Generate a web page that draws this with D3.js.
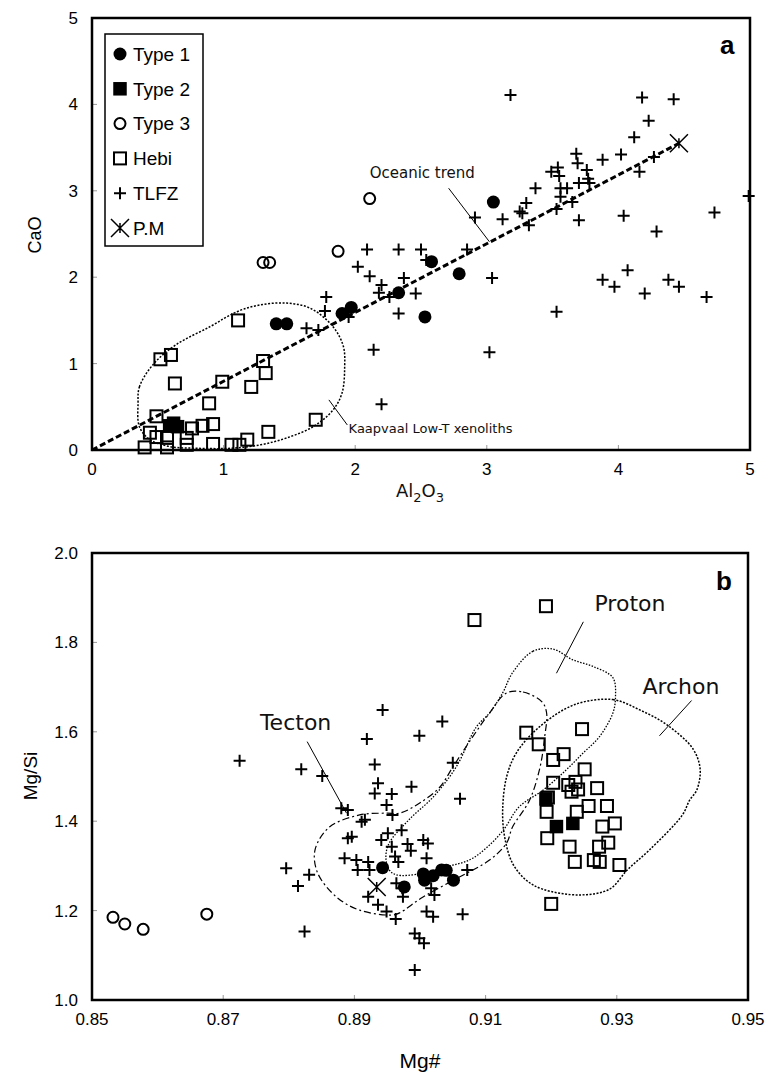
<!DOCTYPE html>
<html lang="en">
<head>
<meta charset="UTF-8">
<title>CaO vs Al2O3 and Mg/Si vs Mg#</title>
<script src="https://d3js.org/d3.v7.min.js"></script>
<style>
  body { margin: 0; background: #fff; }
  text { font-family: "Liberation Sans", Arial, sans-serif; fill: #000; }
  .note { font-family: "DejaVu Sans", sans-serif; font-weight: normal; fill: #111; }
</style>
</head>
<body>
<svg id="main" width="769" height="1072"></svg>
<script>
// ---------- panel a : CaO vs Al2O3 ----------
const aTicks = [0, 1, 2, 3, 4, 5];
const aType1 = [[1.40,1.46],[1.48,1.46],[1.90,1.58],[1.97,1.65],[2.33,1.82],[2.53,1.54],[2.58,2.18],[2.79,2.04],[3.05,2.87]];
const aType2 = [[0.59,0.28],[0.65,0.27],[0.62,0.31]];
const aType3 = [[1.30,2.17],[1.35,2.17],[1.87,2.30],[2.11,2.91]];
const aHebi = [[1.11,1.50],[0.52,1.05],[0.60,1.10],[0.63,0.77],[0.99,0.79],[1.30,1.03],[1.32,0.89],[1.21,0.73],
  [0.89,0.54],[0.49,0.39],[0.44,0.20],[0.40,0.03],[0.49,0.15],[0.57,0.14],[0.57,0.03],[0.72,0.14],[0.72,0.06],
  [0.76,0.25],[0.84,0.28],[0.92,0.30],[0.92,0.07],[1.06,0.06],[1.12,0.06],[1.18,0.12],[1.34,0.21],[1.70,0.35]];
const aTLFZ = [[2.09,2.32],[2.33,2.32],[2.50,2.32],[2.85,2.32],[2.91,2.69],[3.12,2.67],[2.02,2.12],[2.11,2.01],
  [2.37,1.99],[2.20,1.91],[2.18,1.82],[2.26,1.77],[2.46,1.81],[2.33,1.58],[1.78,1.77],[1.77,1.61],[1.95,1.54],
  [3.04,1.99],[2.54,2.20],[1.63,1.41],[1.72,1.39],[2.14,1.16],[3.02,1.13],[2.20,0.53],
  [3.18,4.11],[4.18,4.08],[4.42,4.06],[4.23,3.81],[4.12,3.62],[4.02,3.42],[3.88,3.36],[3.68,3.43],[3.69,3.32],
  [3.49,3.22],[3.54,3.27],[3.55,3.17],[3.76,3.24],[3.77,3.14],[3.78,3.09],[3.70,3.09],[3.61,3.03],[3.56,3.03],
  [3.56,2.93],[3.65,2.87],[3.53,2.79],[3.37,3.03],[3.30,2.86],[3.25,2.76],[3.27,2.74],[3.32,2.60],[3.70,2.66],
  [4.04,2.71],[4.29,2.53],[4.27,3.39],[4.16,3.22],[4.73,2.75],[4.99,2.94],[3.53,1.60],[3.88,1.97],[3.97,1.89],
  [4.07,2.08],[4.20,1.81],[4.38,1.97],[4.46,1.89],[4.67,1.77]];
const aPM = [[4.46,3.55]];
const oceanicTrend = [[0,0],[4.46,3.55]];
const kaapvaal = [[0.35,0.54],[0.36,0.73],[0.47,1.00],[0.64,1.22],[0.90,1.43],[1.10,1.60],[1.28,1.68],[1.48,1.70],
  [1.66,1.64],[1.83,1.43],[1.91,1.20],[1.92,0.96],[1.90,0.66],[1.83,0.46],[1.68,0.27],[1.48,0.14],[1.28,0.06],
  [1.05,0.02],[0.80,0.02],[0.59,0.04],[0.44,0.12],[0.36,0.27]];

// ---------- panel b : Mg/Si vs Mg# ----------
const bXTicks = [0.85, 0.87, 0.89, 0.91, 0.93, 0.95];
const bYTicks = [1.0, 1.2, 1.4, 1.6, 1.8, 2.0];
const bType1 = [[0.8943,1.296],[0.8976,1.253],[0.9005,1.282],[0.9007,1.268],[0.9020,1.278],[0.9033,1.291],[0.9040,1.290],[0.9051,1.268]];
const bType2 = [[0.9192,1.450],[0.9208,1.388],[0.9233,1.395]];
const bType3 = [[0.8532,1.185],[0.8550,1.170],[0.8578,1.158],[0.8675,1.192]];
const bHebi = [[0.9083,1.850],[0.9192,1.881],[0.9162,1.598],[0.9181,1.572],[0.9247,1.606],[0.9203,1.537],[0.9219,1.550],
  [0.9251,1.516],[0.9203,1.486],[0.9226,1.481],[0.9237,1.488],[0.9231,1.466],[0.9241,1.471],[0.9270,1.474],[0.9193,1.421],
  [0.9239,1.421],[0.9257,1.434],[0.9285,1.434],[0.9194,1.362],[0.9278,1.388],[0.9297,1.395],[0.9287,1.352],[0.9273,1.343],
  [0.9228,1.343],[0.9236,1.309],[0.9265,1.313],[0.9274,1.309],[0.9304,1.302],[0.9200,1.215],[0.9195,1.453]];
const bTLFZ = [[0.8943,1.649],[0.9034,1.623],[0.8919,1.584],[0.8999,1.591],[0.8931,1.527],[0.9050,1.531],[0.8819,1.516],
  [0.8851,1.501],[0.8936,1.485],[0.8931,1.462],[0.8957,1.461],[0.8987,1.477],[0.9061,1.450],[0.8949,1.436],[0.8958,1.414],
  [0.8880,1.429],[0.8890,1.425],[0.8911,1.399],[0.8916,1.403],[0.8890,1.362],[0.8896,1.365],[0.8951,1.373],[0.8941,1.358],
  [0.8972,1.380],[0.8957,1.343],[0.8981,1.349],[0.8986,1.334],[0.9005,1.358],[0.9012,1.350],[0.9010,1.317],[0.8962,1.321],
  [0.8967,1.309],[0.8885,1.317],[0.8903,1.313],[0.8905,1.291],[0.8921,1.309],[0.8923,1.291],[0.8796,1.295],[0.8831,1.280],
  [0.8814,1.255],[0.8964,1.261],[0.8973,1.250],[0.8974,1.231],[0.8921,1.231],[0.8936,1.213],[0.8949,1.198],[0.8963,1.181],
  [0.9017,1.250],[0.9022,1.235],[0.9010,1.198],[0.9020,1.186],[0.9065,1.192],[0.9072,1.291],[0.8992,1.149],[0.8999,1.138],
  [0.9006,1.127],[0.8824,1.153],[0.8992,1.067],[0.8725,1.535]];
const bPM = [[0.8934,1.253]];
const proton = [[0.9141,1.732],[0.9172,1.780],[0.9203,1.785],[0.9233,1.761],[0.9264,1.746],[0.9294,1.721],[0.9298,1.678],
  [0.9294,1.642],[0.9273,1.588],[0.9249,1.553],[0.9223,1.515],[0.9188,1.470],[0.9151,1.432],[0.9127,1.380],[0.9101,1.340],
  [0.9075,1.313],[0.9040,1.298],[0.8999,1.282],[0.8964,1.280],[0.8953,1.291],[0.8948,1.320],[0.8953,1.351],[0.8983,1.403],
  [0.9020,1.454],[0.9055,1.521],[0.9086,1.611],[0.9106,1.642],[0.9126,1.687]];
const archon = [[0.9236,1.661],[0.9294,1.672],[0.9335,1.649],[0.9376,1.616],[0.9416,1.562],[0.9427,1.517],[0.9422,1.470],
  [0.9411,1.447],[0.9400,1.414],[0.9350,1.336],[0.9316,1.291],[0.9289,1.248],[0.9243,1.235],[0.9187,1.248],[0.9162,1.268],
  [0.9141,1.306],[0.9129,1.365],[0.9126,1.425],[0.9132,1.499],[0.9147,1.553],[0.9182,1.611]];
const tecton = [[0.9132,1.687],[0.9157,1.689],[0.9186,1.667],[0.9193,1.642],[0.9190,1.588],[0.9183,1.521],[0.9167,1.447],
  [0.9141,1.387],[0.9132,1.351],[0.9106,1.313],[0.9060,1.275],[0.9004,1.230],[0.8969,1.195],[0.8957,1.190],[0.8908,1.201],
  [0.8873,1.230],[0.8844,1.284],[0.8840,1.336],[0.8862,1.387],[0.8908,1.414],[0.8949,1.418],[0.8969,1.418],[0.8999,1.440],
  [0.9030,1.476],[0.9050,1.521],[0.9080,1.588],[0.9106,1.642]];

// legend
const legendNames = ["Type 1", "Type 2", "Type 3", "Hebi", "TLFZ", "P.M"];

// ---------- drawing ----------
const svg = d3.select("svg#main");

function marker(g, kind, x, y) {
  if (kind === "Type 1") {
    g.append("circle").attr("cx", x).attr("cy", y).attr("r", 6.5).attr("fill", "#000");
  } else if (kind === "Type 2") {
    g.append("rect").attr("x", x - 6).attr("y", y - 6).attr("width", 12).attr("height", 12)
      .attr("fill", "#000").attr("stroke", "#000").attr("stroke-width", 1.5);
  } else if (kind === "Type 3") {
    g.append("circle").attr("cx", x).attr("cy", y).attr("r", 5.5)
      .attr("fill", "none").attr("stroke", "#000").attr("stroke-width", 2);
  } else if (kind === "Hebi") {
    g.append("rect").attr("x", x - 6).attr("y", y - 6).attr("width", 12).attr("height", 12)
      .attr("fill", "none").attr("stroke", "#000").attr("stroke-width", 2);
  } else if (kind === "TLFZ") {
    g.append("path").attr("d", `M${x - 6},${y}H${x + 6}M${x},${y - 6}V${y + 6}`)
      .attr("stroke", "#000").attr("stroke-width", 2);
  } else if (kind === "P.M") {
    g.append("path").attr("d", `M${x - 9},${y - 9}L${x + 9},${y + 9}M${x - 9},${y + 9}L${x + 9},${y - 9}M${x},${y - 5}V${y + 5}`)
      .attr("stroke", "#000").attr("stroke-width", 1.5);
  }
}

function frame(x, y, xTicks, yTicks, xFmt, yFmt) {
  const g = svg.append("g");
  const [x0, x1] = x.range(), [y0, y1] = y.range();
  // inner tick marks
  g.selectAll(null).data(yTicks.slice(1, -1)).enter().append("line")
    .attr("x1", x0).attr("x2", x0 + 5).attr("y1", d => y(d)).attr("y2", d => y(d))
    .attr("stroke", "#999").attr("stroke-width", 1);
  g.selectAll(null).data(xTicks.slice(1, -1)).enter().append("line")
    .attr("x1", d => x(d)).attr("x2", d => x(d)).attr("y1", y0).attr("y2", y0 - 5)
    .attr("stroke", "#999").attr("stroke-width", 1);
  g.append("rect").attr("x", x0).attr("y", y1).attr("width", x1 - x0).attr("height", y0 - y1)
    .attr("fill", "none").attr("stroke", "#000").attr("stroke-width", 2.5);
  g.selectAll(null).data(yTicks).enter().append("text")
    .attr("x", x0 - 14).attr("y", d => y(d)).attr("dy", "0.35em").attr("text-anchor", "end")
    .style("font-size", "17px").text(yFmt);
  g.selectAll(null).data(xTicks).enter().append("text")
    .attr("x", d => x(d)).attr("y", y0 + 25).attr("text-anchor", "middle")
    .style("font-size", "17px").text(xFmt);
}

function scatter(x, y, pts, kind) {
  const g = svg.append("g");
  pts.forEach(p => marker(g, kind, x(p[0]), y(p[1])));
}

function contour(x, y, pts, dash, w) {
  svg.append("path")
    .attr("d", d3.line().x(d => x(d[0])).y(d => y(d[1])).curve(d3.curveCatmullRomClosed.alpha(0.5))(pts))
    .attr("fill", "none").attr("stroke", "#000").attr("stroke-width", w).attr("stroke-dasharray", dash);
}

function leader(x, y, a, b) {
  svg.append("line").attr("x1", x(a[0])).attr("y1", y(a[1])).attr("x2", x(b[0])).attr("y2", y(b[1]))
    .attr("stroke", "#000").attr("stroke-width", 1);
}

function note(x, y, p, s, size) {
  svg.append("text").attr("class", "note").attr("x", x(p[0])).attr("y", y(p[1]))
    .style("font-size", size + "px").text(s);
}

// ----- panel a -----
const xa = d3.scaleLinear().domain([0, 5]).range([92, 750]);
const ya = d3.scaleLinear().domain([0, 5]).range([450, 18]);
frame(xa, ya, aTicks, aTicks, d => d, d => d);

contour(xa, ya, kaapvaal, "2,1.6", 1.5);
svg.append("path")
  .attr("d", d3.line().x(d => xa(d[0])).y(d => ya(d[1]))(oceanicTrend))
  .attr("fill", "none").attr("stroke", "#000").attr("stroke-width", 3).attr("stroke-dasharray", "6,3");

scatter(xa, ya, aHebi, "Hebi");
scatter(xa, ya, aTLFZ, "TLFZ");
scatter(xa, ya, aType3, "Type 3");
scatter(xa, ya, aType1, "Type 1");
scatter(xa, ya, aType2, "Type 2");
scatter(xa, ya, aPM, "P.M");

leader(xa, ya, [2.71, 3.03], [3.02, 2.41]);
note(xa, ya, [2.11, 3.15], "Oceanic trend", 15);
leader(xa, ya, [1.80, 0.58], [1.94, 0.29]);
note(xa, ya, [1.95, 0.20], "Kaapvaal Low-T xenoliths", 13);

// legend
const lg = svg.append("g");
lg.append("rect").attr("x", 105).attr("y", 34).attr("width", 98).attr("height", 212)
  .attr("fill", "#fff").attr("stroke", "#000").attr("stroke-width", 1.5);
legendNames.forEach((n, i) => {
  const cy = 54 + i * 34.8;
  marker(lg, n, 120, cy);
  lg.append("text").attr("x", 133).attr("y", cy).attr("dy", "0.36em").style("font-size", "19px").text(n);
});

svg.append("text").attr("x", 720).attr("y", 54).style("font-size", "26px").style("font-weight", "bold").text("a");
svg.append("text").attr("transform", "translate(41,235) rotate(-90)").attr("text-anchor", "middle")
  .style("font-size", "18px").text("CaO");
const alT = svg.append("text").attr("x", 420).attr("y", 497).attr("text-anchor", "middle")
  .attr("class", "note").style("font-size", "18px");
alT.append("tspan").text("Al");
alT.append("tspan").attr("dy", 5).style("font-size", "13px").text("2");
alT.append("tspan").attr("dy", -5).text("O");
alT.append("tspan").attr("dy", 5).style("font-size", "13px").text("3");

// ----- panel b -----
const xb = d3.scaleLinear().domain([0.85, 0.95]).range([92, 748]);
const yb = d3.scaleLinear().domain([1.0, 2.0]).range([1000, 553]);
frame(xb, yb, bXTicks, bYTicks, d3.format(".2f"), d3.format(".1f"));

contour(xb, yb, proton, "1.5,1.5", 1.3);
contour(xb, yb, archon, "2,1.5", 1.5);
contour(xb, yb, tecton, "7,3,2,3", 1.2);

scatter(xb, yb, bHebi, "Hebi");
scatter(xb, yb, bTLFZ, "TLFZ");
scatter(xb, yb, bType3, "Type 3");
scatter(xb, yb, bType1, "Type 1");
scatter(xb, yb, bType2, "Type 2");
scatter(xb, yb, bPM, "P.M");

leader(xb, yb, [0.8828, 1.578], [0.8888, 1.418]);
note(xb, yb, [0.8756, 1.604], "Tecton", 22);
leader(xb, yb, [0.9249, 1.846], [0.9208, 1.731]);
note(xb, yb, [0.9266, 1.870], "Proton", 22);
leader(xb, yb, [0.9414, 1.670], [0.9365, 1.591]);
note(xb, yb, [0.9339, 1.685], "Archon", 22);

svg.append("text").attr("x", 716).attr("y", 590).style("font-size", "26px").style("font-weight", "bold").text("b");
svg.append("text").attr("transform", "translate(37,776) rotate(-90)").attr("text-anchor", "middle")
  .style("font-size", "19px").text("Mg/Si");
svg.append("text").attr("x", 420).attr("y", 1068).attr("text-anchor", "middle")
  .style("font-size", "21px").text("Mg#");
</script>
</body>
</html>
